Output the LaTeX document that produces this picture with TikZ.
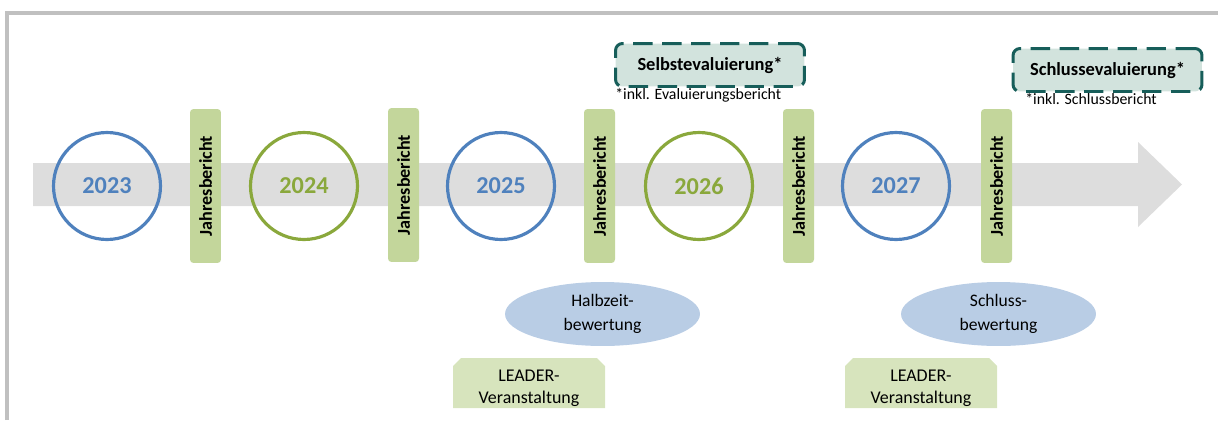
\documentclass[tikz,border=0pt]{standalone}
\usepackage{fontspec}
\setmainfont{Carlito}
\usepackage{xcolor}
\usepackage{tikz}
\usetikzlibrary{positioning,shapes.geometric}

\definecolor{yearblue}{RGB}{79,129,189}
\definecolor{yeargreen}{RGB}{138,168,60}
\definecolor{barfill}{RGB}{195,214,155}
\definecolor{bandgray}{RGB}{221,221,221}
\definecolor{framegray}{RGB}{192,192,192}
\definecolor{evalfill}{RGB}{210,227,221}
\definecolor{evaldraw}{RGB}{23,94,90}
\definecolor{ellfill}{RGB}{185,205,229}
\definecolor{leaderfill}{RGB}{215,228,189}

\begin{document}
\begin{tikzpicture}[
  x=0.02cm, y=-0.02cm,
  year/.style={circle, draw=#1, line width=1.8pt, minimum size=2.14cm, inner sep=0pt,
    text=#1, font=\fontsize{13.8}{16}\selectfont\bfseries},
  bericht/.style={rounded corners=2pt, fill=barfill, rotate=90, minimum width=3.08cm,
    minimum height=0.62cm, inner sep=0pt, font=\fontsize{10.3}{12}\selectfont\bfseries},
  evalbox/.style={draw=evaldraw, fill=evalfill, line width=1.7pt, rounded corners=4pt,
    dash pattern=on 11pt off 5.5pt, minimum width=3.78cm, minimum height=0.86cm,
    inner sep=0pt, font=\fontsize{10.5}{12}\selectfont\bfseries},
  note/.style={anchor=west, inner sep=0pt, font=\fontsize{9}{11}\selectfont},
  review/.style={ellipse, fill=ellfill, minimum width=3.9cm, minimum height=1.28cm,
    inner sep=0pt, align=center, font=\fontsize{10}{13.6}\selectfont},
  event/.style={inner sep=0pt, align=center, font=\fontsize{10.2}{12.5}\selectfont},
]
\useasboundingbox (0,0) rectangle (1218,420);

% frame
\draw[framegray, line width=2.2pt] (7,420) -- (7,13) -- (1218,13);

% time arrow
\fill[bandgray] (33,163) -- (1138,163) -- (1138,142) -- (1182,184.5)
  -- (1138,227) -- (1138,206) -- (33,206) -- cycle;

% years
\node[year=yearblue]  (y23) at (107,186) {2023};
\node[year=yeargreen] (y24) at (304,186) {2024};
\node[year=yearblue]  (y25) at (501,186) {2025};
\node[year=yeargreen] (y26) at (699,186) {2026};
\node[year=yearblue]  (y27) at (896,186) {2027};

% annual reports
\node[bericht] (jb1) at (205.5,186) {Jahresbericht};
\node[bericht] (jb2) at (403.5,185) {Jahresbericht};
\node[bericht] (jb3) at (599.5,186) {Jahresbericht};
\node[bericht] (jb4) at (798.5,186) {Jahresbericht};
\node[bericht] (jb5) at (996.5,186) {Jahresbericht};

% evaluations
\node[evalbox] (selbst) at (710,65) {Selbstevaluierung*};
\node[note] (selbstnote) at (615,95) {*inkl. Evaluierungsbericht};
\node[evalbox] (schluss) at (1107.5,70) {Schlussevaluierung*};
\node[note] (schlussnote) at (1025,99) {*inkl. Schlussbericht};

% reviews
\node[review] (halbzeit) at (602.5,314) {Halbzeit-\\bewertung};
\node[review] (schlussbew) at (998.5,314) {Schluss-\\bewertung};

% LEADER events
\fill[leaderfill] (453,408) -- (453,366) -- (461,358) -- (597,358) -- (605,366) -- (605,408) -- cycle;
\node[event] (leader1) at (529,388.5) {LEADER-\\Veranstaltung};
\fill[leaderfill] (845,408) -- (845,366) -- (853,358) -- (989,358) -- (997,366) -- (997,408) -- cycle;
\node[event] (leader2) at (921,388.5) {LEADER-\\Veranstaltung};

\end{tikzpicture}
\end{document}
